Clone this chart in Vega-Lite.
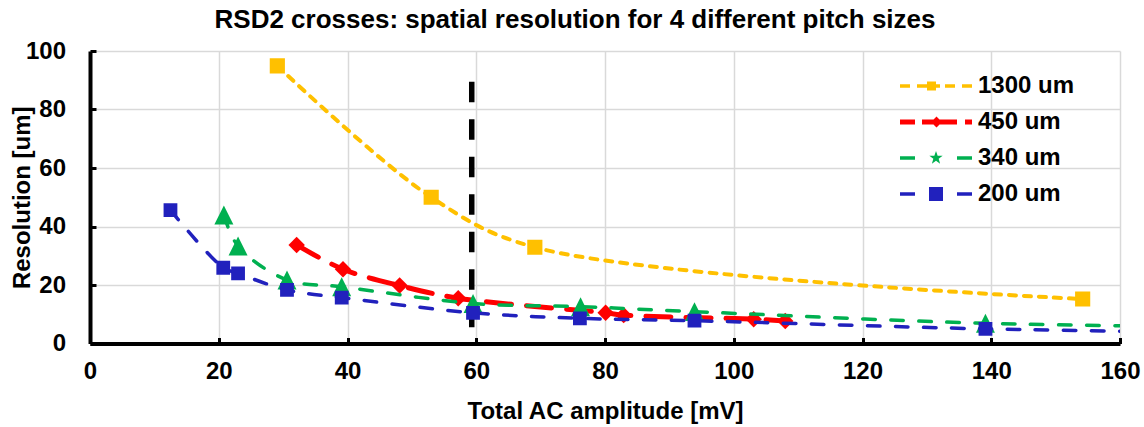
{
  "$schema": "https://vega.github.io/schema/vega-lite/v6.json",
  "autosize": "none",
  "padding": {"left": 90, "top": 51, "right": 24, "bottom": 83.5},
  "width": 1030,
  "height": 292.5,
  "background": "white",
  "config": {"view": {"stroke": null}},
  "title": {"text": "RSD2 crosses: spatial resolution for 4 different pitch sizes", "font": "Liberation Sans", "fontSize": 26, "fontWeight": "bold", "color": "black", "anchor": "middle", "dx": -30, "offset": 6},
  "datasets": {
    "pts": [
      {"series": "1300 um", "x": 29.1, "y": 94.9},
      {"series": "1300 um", "x": 53.0, "y": 50.0},
      {"series": "1300 um", "x": 69.1, "y": 32.9},
      {"series": "1300 um", "x": 154.2, "y": 15.2},
      {"series": "450 um", "x": 32.1, "y": 33.7},
      {"series": "450 um", "x": 39.3, "y": 25.4},
      {"series": "450 um", "x": 48.1, "y": 19.8},
      {"series": "450 um", "x": 57.2, "y": 15.5},
      {"series": "450 um", "x": 80.1, "y": 10.5},
      {"series": "450 um", "x": 82.9, "y": 9.7},
      {"series": "450 um", "x": 103.1, "y": 8.3},
      {"series": "450 um", "x": 108.0, "y": 7.7},
      {"series": "340 um", "x": 20.8, "y": 43.9},
      {"series": "340 um", "x": 23.0, "y": 33.3},
      {"series": "340 um", "x": 30.6, "y": 21.7},
      {"series": "340 um", "x": 39.1, "y": 19.4},
      {"series": "340 um", "x": 59.5, "y": 13.7},
      {"series": "340 um", "x": 76.2, "y": 12.6},
      {"series": "340 um", "x": 93.9, "y": 10.9},
      {"series": "340 um", "x": 139.1, "y": 6.9},
      {"series": "340 um", "x": 175.0, "y": 5.7},
      {"series": "200 um", "x": 12.5, "y": 45.6},
      {"series": "200 um", "x": 20.7, "y": 25.9},
      {"series": "200 um", "x": 23.0, "y": 24.0},
      {"series": "200 um", "x": 30.6, "y": 18.3},
      {"series": "200 um", "x": 39.1, "y": 15.7},
      {"series": "200 um", "x": 59.5, "y": 10.5},
      {"series": "200 um", "x": 76.1, "y": 8.6},
      {"series": "200 um", "x": 93.9, "y": 7.8},
      {"series": "200 um", "x": 139.1, "y": 5.0},
      {"series": "200 um", "x": 175.0, "y": 3.8}
    ],
    "ref": [{"x": 59.3, "y": 89.5, "y2": 0}]
  },
  "encoding": {
    "x": {"field": "x", "type": "quantitative", "scale": {"domain": [0, 160], "nice": false, "zero": false},
      "axis": {"values": [0, 20, 40, 60, 80, 100, 120, 140, 160], "title": "Total AC amplitude [mV]", "grid": true, "gridColor": "#D9D9D9", "gridWidth": 1.5,
        "domainColor": "black", "domainWidth": 4, "tickColor": "black", "tickWidth": 3, "tickSize": -6,
        "labelFont": "Liberation Sans", "labelFontSize": 24, "labelFontWeight": "bold", "labelColor": "black", "labelPadding": 21.5, "labelFlush": false, "labelOverlap": false,
        "titleFont": "Liberation Sans", "titleFontSize": 24, "titleFontWeight": "bold", "titleColor": "black", "titleY": 67.5, "titleBaseline": "middle"}},
    "y": {"field": "y", "type": "quantitative", "scale": {"domain": [0, 100], "nice": false, "zero": false},
      "axis": {"values": [0, 20, 40, 60, 80, 100], "title": "Resolution [um]", "grid": true, "gridColor": "#D9D9D9", "gridWidth": 1.5,
        "domainColor": "black", "domainWidth": 4, "tickColor": "black", "tickWidth": 3, "tickSize": -6,
        "labelFont": "Liberation Sans", "labelFontSize": 24, "labelFontWeight": "bold", "labelColor": "black", "labelPadding": 30.5, "labelFlush": false, "labelOverlap": false,
        "titleFont": "Liberation Sans", "titleFontSize": 24, "titleFontWeight": "bold", "titleColor": "black", "titleX": -67.5, "titleBaseline": "middle"}}
  },
  "layer": [
    {
      "data": {"name": "ref"},
      "mark": {"type": "rule", "color": "black", "strokeWidth": 5.5, "strokeDash": [20.5, 17]},
      "encoding": {"y2": {"field": "y2"}}
    },
    {
      "data": {"name": "pts"},
      "encoding": {
        "color": {"field": "series", "type": "nominal",
          "scale": {"domain": ["1300 um", "450 um", "340 um", "200 um"], "range": ["#FFC000", "#FF0000", "#00B050", "#2121BD"]},
          "legend": {"orient": "none", "legendX": 834, "legendY": 23, "title": null, "symbolSize": 4, "padding": 0,
            "labelFont": "Liberation Sans", "labelFontSize": 24, "labelFontWeight": "bold", "labelColor": "black", "labelOffset": 30, "rowPadding": 12,
            "encode": {"symbols": {"update": {
              "shape": {"signal": "datum.value == '1300 um' ? 'M-36,-1.75h10v3.5h-10z M-19,-1.75h23v3.5h-23z M-9,-4.5h9v9h-9z M9,-1.75h10v3.5h-10z M26,-1.75h10v3.5h-10z' : datum.value == '450 um' ? 'M-36,-2.5h15v5h-15z M-14,-2.5h35v5h-35z M0.5,-5.5L6,0L0.5,5.5L-5,0Z M29,-2.5h7v5h-7z' : datum.value == '340 um' ? 'M-36,-1.75h15v3.5h-15z M0,-7L1.65,-2.27L6.66,-2.16L2.66,0.87L4.11,5.66L0,2.8L-4.11,5.66L-2.66,0.87L-6.66,-2.16L-1.65,-2.27Z M21,-1.75h15v3.5h-15z' : 'M-36,-1.75h15v3.5h-15z M-7,-7h14v14h-14z M21,-1.75h15v3.5h-15z'"},
              "size": {"value": 4},
              "fill": {"scale": "color", "field": "value"},
              "stroke": {"value": "transparent"},
              "strokeWidth": {"value": 0},
              "opacity": {"value": 1}
            }}}}}
      },
      "layer": [
        {"transform": [{"filter": "datum.series === '1300 um'"}], "mark": {"type": "line", "interpolate": "catmull-rom", "strokeWidth": 4, "strokeDash": [7, 8], "strokeCap": "round", "clip": true}},
        {"transform": [{"filter": "datum.series === '1300 um'"}], "mark": {"type": "point", "shape": "square", "filled": true, "size": 230, "opacity": 1, "strokeWidth": 0, "clip": true}},
        {"transform": [{"filter": "datum.series === '450 um'"}], "mark": {"type": "line", "interpolate": "catmull-rom", "strokeWidth": 5, "strokeDash": [25, 15], "strokeCap": "round", "clip": true}},
        {"transform": [{"filter": "datum.series === '450 um'"}], "mark": {"type": "point", "shape": "diamond", "filled": true, "size": 270, "opacity": 1, "strokeWidth": 0, "clip": true}},
        {"transform": [{"filter": "datum.series === '340 um'"}], "mark": {"type": "line", "interpolate": "catmull-rom", "strokeWidth": 3.5, "strokeDash": [12.5, 15.5], "strokeCap": "round", "clip": true}},
        {"transform": [{"filter": "datum.series === '340 um'"}], "mark": {"type": "point", "shape": "M0,-1L1,1L-1,1Z", "filled": true, "size": 360, "opacity": 1, "strokeWidth": 0, "clip": true}},
        {"transform": [{"filter": "datum.series === '200 um'"}], "mark": {"type": "line", "interpolate": "catmull-rom", "strokeWidth": 3.5, "strokeDash": [12.5, 15.5], "strokeCap": "round", "clip": true}},
        {"transform": [{"filter": "datum.series === '200 um'"}], "mark": {"type": "point", "shape": "square", "filled": true, "size": 190, "opacity": 1, "strokeWidth": 0, "clip": true}}
      ]
    }
  ]
}
